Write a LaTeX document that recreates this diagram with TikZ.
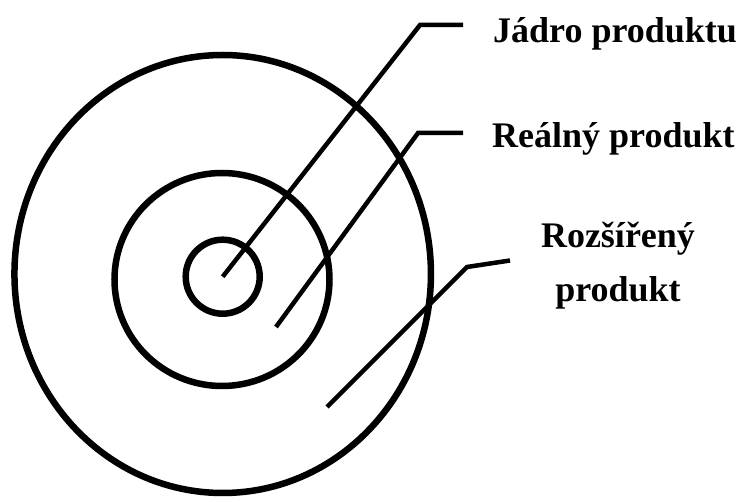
\documentclass[tikz,border=0pt]{standalone}
\usepackage{fontspec}
\setmainfont{Liberation Serif}
\usepackage{tikz}
\usetikzlibrary{shapes.geometric}

\begin{document}
\begin{tikzpicture}[
  x=1pt, y=-1pt,
  every node/.style={font=\fontsize{36}{54}\selectfont\bfseries},
  ring/.style={draw, line width=6.5pt, inner sep=0pt},
  leader/.style={draw, line width=4.5pt},
  tag/.style={anchor=base west, inner sep=0pt}
]
\useasboundingbox (0,0) rectangle (748,502);

% the three layers
\node[ring, circle, minimum size=74pt] (core) at (222.7,276.7) {};
\node[ring, ellipse, minimum width=215pt, minimum height=213pt] (real) at (222,279.5) {};
\node[ring, ellipse, minimum width=416.5pt, minimum height=438pt] (ext) at (222.7,274) {};

% labels
\node[tag] (jadro) at (493,43) {Jádro produktu};
\node[tag] (realny) at (492,148) {Reálný produkt};
\node[anchor=base, align=center, inner sep=0pt] (rozsireny) at (618,302) {Rozšířený\\produkt};

% leader lines
\coordinate (p2) at (276,327);
\coordinate (p3) at (327,407);
\coordinate (b1) at (420,25);  \coordinate (e1) at (463,25);
\coordinate (b2) at (418,133); \coordinate (e2) at (463,133);
\coordinate (b3) at (467,267); \coordinate (e3) at (510,260.5);

\draw[leader] (core.center) -- (b1) -- (e1);
\draw[leader] (p2) -- (b2) -- (e2);
\draw[leader] (p3) -- (b3) -- (e3);
\end{tikzpicture}
\end{document}
